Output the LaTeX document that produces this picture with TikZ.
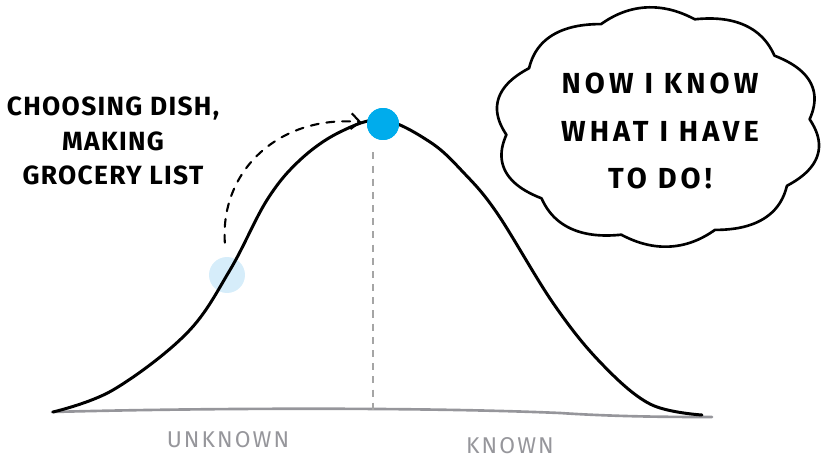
\documentclass[tikz,border=0pt]{standalone}
\usepackage{fontspec}
\setmainfont{Fira Sans}
\newfontfamily\handfont[LetterSpace=5]{Fira Sans}
\newfontfamily\cloudfont[LetterSpace=14]{Fira Sans}
\newfontfamily\axisfont[LetterSpace=9]{Fira Sans}
\usetikzlibrary{arrows.meta,positioning}
\definecolor{dotBlue}{RGB}{0,172,236}
\definecolor{paleBlue}{RGB}{214,237,250}
\definecolor{axisGray}{RGB}{150,150,155}
\definecolor{guideGray}{RGB}{165,165,165}
\tikzset{
  hand/.style={font=\handfont\bfseries\fontsize{15}{19.5}\selectfont,align=center},
  thought/.style={font=\cloudfont\bfseries\fontsize{16.5}{27}\selectfont,align=center},
  axislbl/.style={font=\axisfont\fontsize{13}{15}\selectfont,text=axisGray},
  peakdot/.style={circle,fill=dotBlue,inner sep=0pt,minimum size=0.64cm},
  startdot/.style={circle,fill=paleBlue,inner sep=0pt,minimum size=0.72cm},
  curveline/.style={line width=1.7pt,line cap=round,line join=round},
  baseline/.style={line width=1.5pt,axisGray,line cap=round},
  guide/.style={line width=1.2pt,guideGray,dash pattern=on 4pt off 3.5pt},
  dasharr/.style={line width=1.2pt,line cap=round,dash pattern=on 4.5pt off 4.5pt,
                  -{Straight Barb[length=5pt,width=9pt,line width=1.2pt]}},
  cloudline/.style={line width=1.5pt,line join=round},
}
\begin{document}
\begin{tikzpicture}[x=0.02cm,y=-0.02cm]
  \useasboundingbox (0,0) rectangle (825,459);
  % axis and guide
  \draw[baseline] (52,412) .. controls (200,408) and (420,407) .. (560,413)
                  .. controls (620,417) and (680,417) .. (712,417);
  \node[startdot] (start) at (227,275) {};
  \node[peakdot]  (peak)  at (383,124) {};
  \coordinate (foot) at (373,410);
  \draw[guide] (peak.south) ++(-10,12) coordinate (gtop) (gtop) -- (foot);
  % the curve
  \draw[curveline] plot[smooth,tension=0.6] coordinates {
    (53,412) (113,390) (187,333) (230,270) (267,200) (300,160) (340,132)
    (383,120) (430,142) (463,172) (497,213) (553,303) (600,362)
    (650,404) (702,415)};
  \node[peakdot] at (peak) {};
  \draw[dasharr,shorten <=8pt,shorten >=3pt]
    (start) .. controls (220,170) and (280,115) .. (peak);
  % labels
  \node[hand] (task) at (113,141) {CHOOSING DISH,\\MAKING\\GROCERY LIST};
  \node[axislbl] (unknown) at (228,440) {UNKNOWN};
  \node[axislbl] (known) at (510,446) {KNOWN};
  % thought cloud
  \draw[cloudline] plot[domain=0:360,samples=361]
    ({658+152*cos(\x)*(1+0.08*abs(sin(5*\x+20)))},
     {127+111*sin(\x)*(1+0.08*abs(sin(5*\x+20)))}) -- cycle;
  \node[thought] (aha) at (660,131) {NOW I KNOW\\WHAT I HAVE\\TO DO!};
\end{tikzpicture}
\end{document}
